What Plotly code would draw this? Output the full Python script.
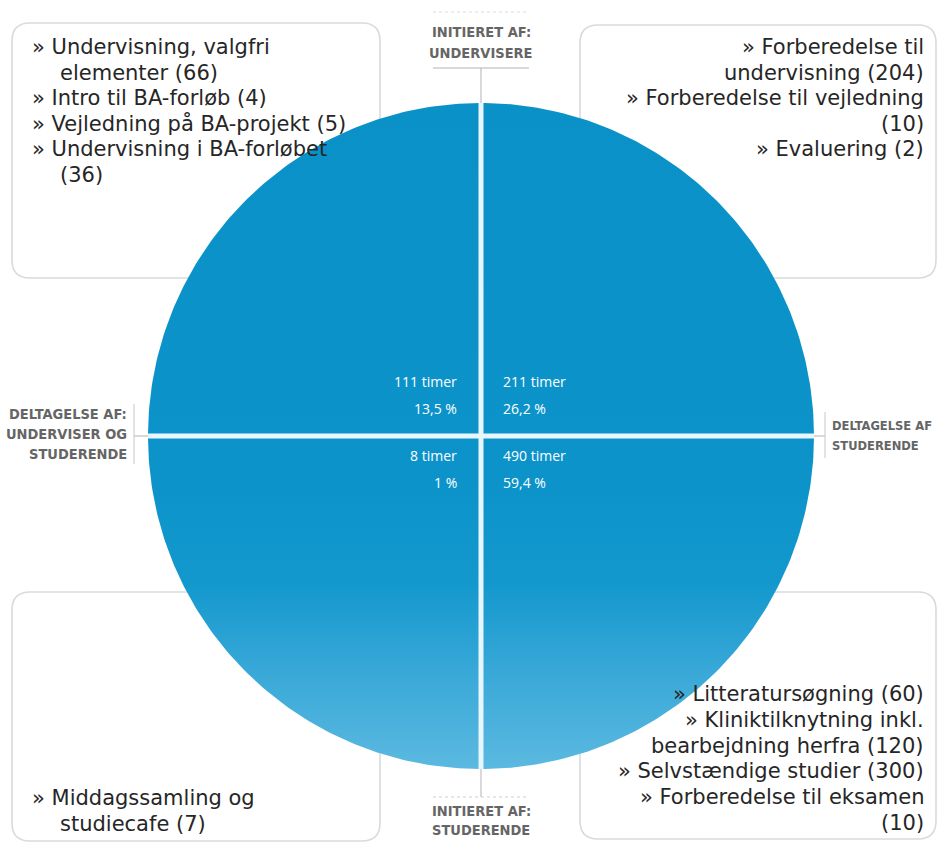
import numpy as np
import plotly.graph_objects as go

# ---------------- data ----------------
quadrant_names = ["tl", "tr", "bl", "br"]
quadrant_hours = [111, 211, 8, 490]
quadrant_pct = ["13,5 %", "26,2 %", "1 %", "59,4 %"]

# "|" marks where the reference wraps a line
tl_items = ["Undervisning, valgfri|elementer", "Intro til BA-forløb", "Vejledning på BA-projekt", "Undervisning i BA-forløbet|"]
tl_hours = [66, 4, 5, 36]
tr_items = ["Forberedelse til|undervisning", "Forberedelse til vejledning|", "Evaluering"]
tr_hours = [204, 10, 2]
bl_items = ["Middagssamling og|studiecafe"]
bl_hours = [7]
br_items = ["Litteratursøgning", "Kliniktilknytning inkl.|bearbejdning herfra", "Selvstændige studier", "Forberedelse til eksamen|"]
br_hours = [60, 120, 300, 10]

axis_top = ["INITIERET AF:", "UNDERVISERE"]
axis_bottom = ["INITIERET AF:", "STUDERENDE"]
axis_left = ["DELTAGELSE AF:", "UNDERVISER OG", "STUDERENDE"]
axis_right = ["DELTAGELSE AF", "STUDERENDE"]

# ---------------- layout constants ----------------
W, H = 938, 843
CX, CY, R = 481, 436, 333
BODY_FONT = "DejaVu Sans, Open Sans, sans-serif"
CENTER_FONT = "Open Sans, Noto Sans, sans-serif"
LABEL_FONT = "Liberation Sans Narrow, DejaVu Sans Condensed, sans-serif"
TEXT_COL = "#262626"
LABEL_COL = "#656565"
BOX_COL = "#d6dbde"
BODY_SIZE = 21

fig = go.Figure()

# circle with vertical gradient (light towards the bottom)
t = np.linspace(0, 2 * np.pi, 400)
fig.add_trace(go.Scatter(
    x=CX + R * np.cos(t), y=CY + R * np.sin(t),
    mode="lines", line=dict(width=0, color="rgba(0,0,0,0)"),
    fill="toself",
    fillgradient=dict(type="vertical",
                      colorscale=[[0, "#5bb9e0"], [0.14, "#3aa9d8"], [0.28, "#1398cd"],
                                  [0.42, "#0c94ca"], [1, "#0a92c8"]]),
    hoverinfo="skip", showlegend=False))

def rounded_box(x0, y0, x1, y1, r=18):
    p = (f"M {x0+r},{y0} L {x1-r},{y0} Q {x1},{y0} {x1},{y0+r} "
         f"L {x1},{y1-r} Q {x1},{y1} {x1-r},{y1} L {x0+r},{y1} "
         f"Q {x0},{y1} {x0},{y1-r} L {x0},{y0+r} Q {x0},{y0} {x0+r},{y0} Z")
    return dict(type="path", path=p, xref="x", yref="y", layer="below",
                line=dict(color=BOX_COL, width=1.6), fillcolor="rgba(255,255,255,0)")

shapes = [
    rounded_box(12, 23, 380, 278),
    rounded_box(580, 25, 936, 278),
    rounded_box(12, 592, 380, 841),
    rounded_box(580, 592, 936, 839),
]

def line(x0, y0, x1, y1, color, width, dash="solid"):
    return dict(type="line", x0=x0, y0=y0, x1=x1, y1=y1, xref="x", yref="y",
                line=dict(color=color, width=width, dash=dash))

# white cross inside circle
shapes += [
    line(CX, CY - R, CX, CY + R, "#e6f6fc", 5),
    line(CX - R, CY, CX + R, CY, "#e6f6fc", 5),
]
# grey connector lines
g = "#b3b3b3"
shapes += [
    line(433, 12, 529, 12, "#dcdcdc", 1, "dot"),
    line(433, 68, 529, 68, g, 1.2),
    line(CX, 68, CX, CY - R, g, 1),
    line(CX, CY + R, CX, 797, g, 1),
    line(433, 797, 529, 797, "#cfcfcf", 1.2, "dot"),
    line(134, 404, 134, 464, "#c8c8c8", 1),
    line(134, CY, CX - R, CY, g, 1),
    line(CX + R, CY, 825, CY, g, 1),
    line(825, 412, 825, 458, "#c8c8c8", 1),
]

annotations = []

def add_text(x, y, text, xanchor, size, color, family):
    annotations.append(dict(x=x, y=y, xref="x", yref="y", text=text, showarrow=False,
                            xanchor=xanchor, yanchor="middle",
                            font=dict(size=size, color=color, family=family)))

def item_lines(items, hours):
    out = []
    for name, h in zip(items, hours):
        parts = f"» {name} ({h})".split("|")
        for i, p in enumerate(parts):
            out.append((i > 0, p.strip()))
    return out

LS = 25.5
# top-left (left aligned, hanging indent)
for i, (cont, txt) in enumerate(item_lines(tl_items, tl_hours)):
    add_text(58 if cont else 30, 47 + i * LS, txt, "left", BODY_SIZE, TEXT_COL, BODY_FONT)
# top-right (right aligned)
for i, (cont, txt) in enumerate(item_lines(tr_items, tr_hours)):
    add_text(926, 47 + i * LS, txt, "right", BODY_SIZE, TEXT_COL, BODY_FONT)
# bottom-left
for i, (cont, txt) in enumerate(item_lines(bl_items, bl_hours)):
    add_text(58 if cont else 30, 798 + i * LS, txt, "left", BODY_SIZE, TEXT_COL, BODY_FONT)
# bottom-right
br_lines = item_lines(br_items, br_hours)
for i, (cont, txt) in enumerate(br_lines):
    add_text(926, 823 - (len(br_lines) - 1 - i) * 25.8, txt, "right", BODY_SIZE, TEXT_COL, BODY_FONT)

# quadrant totals
q_pos = {"tl": (459, 381, "right"), "tr": (501, 381, "left"),
         "bl": (459, 455, "right"), "br": (501, 455, "left")}
for q, h, p in zip(quadrant_names, quadrant_hours, quadrant_pct):
    x, y, anc = q_pos[q]
    add_text(x, y, f"{h} timer", anc, 14, "white", CENTER_FONT)
    add_text(x, y + 27, p, anc, 14, "white", CENTER_FONT)

# axis labels
LSZ = 14.5
for i, s in enumerate(axis_top):
    add_text(CX, 32 + i * 21, f"<b>{s}</b>", "center", LSZ, LABEL_COL, LABEL_FONT)
for i, s in enumerate(axis_bottom):
    add_text(CX, 811 + i * 19, f"<b>{s}</b>", "center", LSZ, LABEL_COL, LABEL_FONT)
for i, s in enumerate(axis_left):
    add_text(129, 414 + i * 20, f"<b>{s}</b>", "right", LSZ, LABEL_COL, LABEL_FONT)
for i, s in enumerate(axis_right):
    add_text(830, 425 + i * 20, f"<b>{s}</b>", "left", 12.8, LABEL_COL, LABEL_FONT)

fig.update_layout(
    width=W, height=H,
    margin=dict(l=0, r=0, t=0, b=0),
    paper_bgcolor="white", plot_bgcolor="white",
    xaxis=dict(range=[0, W], visible=False, fixedrange=True),
    yaxis=dict(range=[H, 0], visible=False, fixedrange=True),
    shapes=shapes, annotations=annotations, showlegend=False,
)

fig.write_html("out.html",
               post_script="document.body.style.margin='0';document.body.style.overflow='hidden';",
               config={"displayModeBar": False})
